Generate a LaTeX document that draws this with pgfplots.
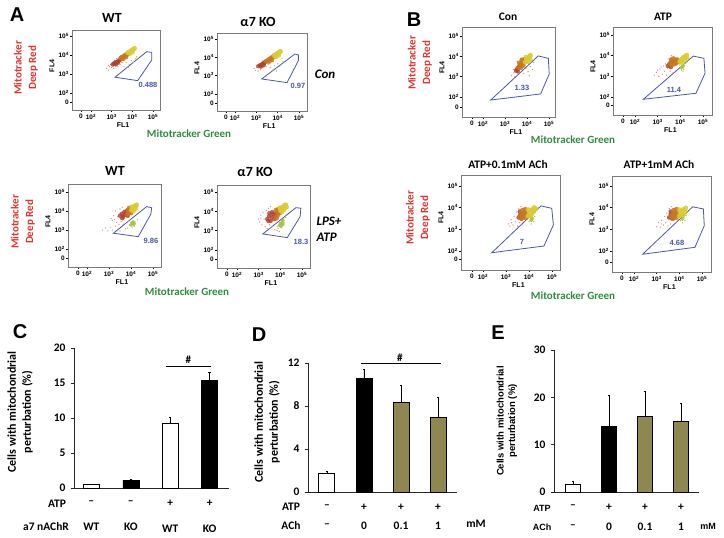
\documentclass[border=0pt]{standalone}
\usepackage{pgfplots}
\pgfplotsset{compat=1.18}
\usepackage{fontspec}
\setmainfont{Carlito}
\newfontfamily\arial{Liberation Sans}
\definecolor{cytred}{HTML}{E3342F}
\definecolor{cytgreen}{HTML}{2E8B3D}
\definecolor{gateblue}{HTML}{4A57A5}
\definecolor{olivebar}{HTML}{8F8750}
\definecolor{framegray}{HTML}{7A7A7A}
\definecolor{cellred}{HTML}{B2402C}
\definecolor{cellorange}{HTML}{C9761E}
\definecolor{cellyellow}{HTML}{DCCB2E}
\definecolor{cellgreen}{HTML}{A9C24A}
\definecolor{fringered}{HTML}{D98B7C}
\pgfplotsset{
  dots/.style={only marks,mark=*,mark size=#1,mark options={draw=none}},
  barax/.style={
    scale only axis,ybar,bar width=16pt,bar shift=0pt,
    axis x line=bottom,axis y line=left,axis line style={-,line width=0.9pt,black!85},
    xtick=data,x tick style={draw=none},
    ytick style={line width=0.8pt,black!85},tick align=outside,major tick length=3pt,
    ymin=0,clip=false,
    /pgf/number format/assume math mode=true,
    yticklabel style={font=\bfseries\fontsize{11.5}{12}\selectfont,xshift=-2pt},
    xticklabel style={align=center,font=\bfseries\fontsize{11.5}{12}\selectfont},
    error bars/y dir=plus,error bars/y explicit,
    error bars/error bar style={line width=0.8pt,black},
    error bars/error mark options={rotate=90,mark size=1.2pt,line width=0.8pt},
  },
}
% panel box in picture pixels: left right top bottom
\newcommand\flowbox[4]{\def\Lx{#1}\def\Rx{#2}\def\Ty{#3}\def\By{#4}}
% tick positions in picture pixels: x of 0, 10^2, 10^5, y of 0, 10^2, 10^5
\newcommand\flowticks[6]{%
  \pgfmathsetmacro\dx{(#3-#2)/3}\pgfmathsetmacro\dy{(#5-#6)/3}%
  \pgfmathsetmacro\xa{2+(\Lx-#2)/\dx}\pgfmathsetmacro\xb{2+(\Rx-#2)/\dx}%
  \pgfmathsetmacro\xz{2+(#1-#2)/\dx}%
  \pgfmathsetmacro\ya{2-(\By-#5)/\dy}\pgfmathsetmacro\yb{2+(#5-\Ty)/\dy}%
  \pgfmathsetmacro\yz{2-(#4-#5)/\dy}%
  \pgfmathsetmacro\Wd{\Rx-\Lx}\pgfmathsetmacro\Ht{\By-\Ty}\pgfmathsetmacro\Yb{538-\By}%
}
% cloud points, gate polygon: fringe, red, orange, yellow, green, gate, green core
\newcommand\flowaxis[7]{%
\begin{axis}[at={(\Lx pt,\Yb pt)},anchor=south west,scale only axis,
  width=\Wd pt,height=\Ht pt,xmin=\xa,xmax=\xb,ymin=\ya,ymax=\yb,
  axis line style={framegray,line width=0.7pt},
  xtick={\xz,2,3,4,5},ytick={\yz,2,3,4,5},
  xticklabels={0,10\textsuperscript{2},10\textsuperscript{3},10\textsuperscript{4},10\textsuperscript{5}},
  yticklabels={0,10\textsuperscript{2},10\textsuperscript{3},10\textsuperscript{4},10\textsuperscript{5}},
  tick align=outside,major tick length=2pt,tick style={black,line width=0.5pt},
  xtick pos=bottom,ytick pos=left,
  xticklabel style={font=\arial\bfseries\fontsize{6.5}{7}\selectfont,inner sep=1pt,yshift=-1pt},
  yticklabel style={font=\arial\bfseries\fontsize{6.5}{7}\selectfont,inner sep=1pt},
  xlabel={FL1},ylabel={FL4},
  xlabel style={font=\arial\bfseries\fontsize{7}{8}\selectfont,at={(axis description cs:0.58,0)},anchor=north,yshift=-9pt},
  ylabel style={font=\arial\bfseries\fontsize{7}{8}\selectfont,at={(axis description cs:0,0.55)},anchor=south,yshift=14pt},
]
\addplot[dots=0.35,color=fringered] coordinates {#1};
\addplot[dots=0.4,color=cellgreen] coordinates {#5};
\addplot[dots=1.8,color=cellgreen,opacity=0.85] coordinates {#7};
\addplot[dots=2.0,color=cellred,opacity=0.8] coordinates {#2};
\addplot[dots=2.3,color=cellorange,opacity=0.85] coordinates {#3};
\addplot[dots=2.3,color=cellyellow,opacity=0.85] coordinates {#4};
\addplot[color=gateblue,line width=0.8pt] coordinates {#6} -- cycle;
\end{axis}}
\begin{document}
\begin{tikzpicture}
\path[use as bounding box] (0,0) rectangle (724pt,538pt);

% ---- A, top row
\flowbox{72}{160}{30}{110}\flowticks{81}{91}{153}{102}{93}{36}
\flowaxis
{(2.75,3.3)(2.85,3.2)(2.9,3.4)(2.95,3.5)(3.0,3.35)(3.05,3.6)(3.1,3.3)(3.15,3.72)(3.2,3.4)(3.25,3.82)(3.3,3.42)(3.4,3.5)(2.85,3.45)(3.5,3.6)}
{(3.05,3.5)(3.12,3.55)(3.18,3.6)(3.25,3.62)(3.32,3.68)(3.38,3.72)(3.44,3.78)(3.2,3.52)(3.3,3.6)}
{(3.45,3.85)(3.52,3.88)(3.58,3.92)(3.65,3.98)(3.72,4.02)(3.55,3.8)(3.68,3.9)(3.78,4.05)}
{(3.78,4.12)(3.85,4.15)(3.92,4.2)(3.98,4.25)(4.05,4.3)(4.1,4.35)(3.88,4.08)(4.0,4.15)}
{(3.7,3.6)(3.85,3.5)(3.95,3.7)(4.05,3.6)(4.15,3.8)(3.6,3.4)(3.8,3.35)(4.2,3.9)}
{(3.16,2.83)(4.26,2.65)(4.94,3.74)(4.94,4.14)(4.69,4.17)}
{}

\flowbox{217}{307}{33}{111}\flowticks{226}{235}{299}{103}{94}{39}
\flowaxis
{(2.95,3.3)(3.02,3.45)(3.08,3.25)(3.15,3.55)(3.2,3.35)(3.28,3.8)(3.35,3.45)(3.45,3.5)(3.0,3.55)(3.55,3.6)(2.9,3.4)(3.4,3.85)}
{(3.1,3.52)(3.17,3.56)(3.24,3.6)(3.3,3.65)(3.36,3.68)(3.42,3.75)(3.22,3.5)(3.34,3.58)}
{(3.48,3.78)(3.55,3.84)(3.62,3.9)(3.7,3.96)(3.77,4.02)(3.6,3.78)(3.72,3.86)(3.84,4.06)}
{(3.84,4.1)(3.9,4.14)(3.96,4.18)(4.02,4.24)(4.08,4.28)(4.13,4.32)(3.92,4.04)(4.04,4.12)}
{(3.65,3.45)(3.85,3.55)(4.0,3.65)(4.1,3.5)(4.25,3.75)(3.75,3.3)(3.95,3.25)(4.2,3.95)}
{(3.25,2.82)(4.44,2.62)(4.97,3.82)(4.97,4.13)(4.81,4.18)}
{}

% ---- A, bottom row
\flowbox{68}{161}{184}{267}\flowticks{78}{87}{153}{258}{249}{192}
\flowaxis
{(2.7,3.0)(2.85,3.1)(2.95,2.95)(3.05,3.15)(3.15,3.0)(3.2,3.75)(3.25,3.55)(3.3,4.0)(3.35,3.4)(3.4,3.7)(3.45,3.3)(3.5,4.1)(3.55,3.45)(3.6,4.2)(3.65,3.3)(3.15,3.5)(3.3,3.2)(3.1,3.6)(3.5,2.95)(3.75,3.05)}
{(3.5,3.75)(3.58,3.85)(3.65,3.7)(3.72,3.8)(3.78,3.9)(3.6,3.62)(3.7,3.95)(3.85,3.75)(3.82,4.02)}
{(3.85,3.85)(3.92,3.95)(3.88,4.05)(3.98,4.05)(4.0,3.9)(3.92,4.15)}
{(4.02,4.05)(4.08,4.12)(4.14,4.2)(4.2,4.28)(4.12,4.02)(4.22,4.15)(4.05,4.22)(4.25,4.32)}
{(3.95,3.25)(4.0,3.4)(4.05,3.3)(4.1,3.45)(4.15,3.2)(4.2,3.35)(4.05,3.15)(3.85,3.1)(4.3,3.55)(3.9,3.45)(4.12,3.32)(4.02,3.25)(4.18,3.42)}
{(3.2,2.83)(4.33,2.65)(4.9,3.83)(4.94,4.17)(4.71,4.23)}
{(4.0,3.28)(4.06,3.36)(4.12,3.3)(4.1,3.42)}

\flowbox{217}{310}{185}{268}\flowticks{227}{237}{302}{259}{250}{192}
\flowaxis
{(3.0,3.6)(3.05,3.45)(3.1,3.8)(3.15,3.3)(3.2,3.95)(3.25,3.6)(3.3,3.2)(3.35,4.05)(3.4,3.1)(3.45,4.15)(3.5,3.3)(3.55,4.25)(3.65,3.2)(3.75,3.05)(3.85,3.0)(3.1,3.65)(3.95,2.95)}
{(3.4,3.6)(3.48,3.75)(3.55,3.5)(3.6,3.7)(3.68,3.85)(3.72,3.6)(3.78,3.75)(3.62,3.95)(3.5,3.9)(3.45,3.5)(3.82,3.9)}
{(3.82,3.65)(3.88,3.82)(3.92,3.98)(3.8,4.05)(3.98,3.92)(3.9,4.1)}
{(4.0,4.05)(4.06,4.15)(4.12,4.22)(4.18,4.3)(4.25,4.33)(4.08,3.98)(4.18,4.1)(4.28,4.22)(3.98,4.18)}
{(3.85,3.2)(3.95,3.4)(4.0,3.25)(4.05,3.5)(4.1,3.3)(4.15,3.6)(4.2,3.4)(4.05,3.15)(3.9,3.1)(4.25,3.7)(4.0,3.36)(4.08,3.42)(4.12,3.5)(3.95,3.28)}
{(3.19,2.83)(4.32,2.64)(4.91,3.72)(4.95,4.16)(4.72,4.19)}
{(3.96,3.28)(4.02,3.36)(4.08,3.42)(4.12,3.52)(4.02,3.24)(4.1,3.32)}

% ---- B, top row
\flowbox{462}{555}{27}{117}\flowticks{472}{483}{549}{107}{97}{36}
\flowaxis
{(3.3,3.05)(3.4,3.2)(3.45,3.0)(3.5,3.45)(3.55,3.15)(3.6,3.6)(3.65,3.2)(3.4,3.35)(3.7,3.9)(3.55,3.75)}
{(3.5,3.3)(3.56,3.36)(3.6,3.45)(3.66,3.5)(3.58,3.28)}
{(3.62,3.45)(3.68,3.55)(3.74,3.62)(3.8,3.68)(3.72,3.45)(3.82,3.55)(3.66,3.68)(3.78,3.82)(3.86,3.75)(3.9,3.85)}
{(3.92,3.72)(3.98,3.82)(4.04,3.9)(4.1,3.98)(4.16,4.05)(4.05,3.75)(4.14,3.85)(3.96,3.95)}
{(3.95,3.4)(4.05,3.25)(4.15,3.5)(4.25,3.35)(4.3,3.7)(4.1,3.05)(3.85,3.15)}
{(2.35,1.85)(4.62,2.15)(5.01,3.13)(4.97,3.9)(4.51,4.02)}
{}

\flowbox{613}{712}{27}{115}\flowticks{623}{635}{703}{105}{97}{35}
\flowaxis
{(2.85,3.05)(2.95,3.2)(3.05,3.0)(3.1,3.35)(3.2,3.1)(3.25,3.5)(3.3,3.25)(3.35,3.6)(3.4,3.05)(3.45,3.4)(3.5,3.85)(3.55,3.25)(3.15,3.45)(3.6,4.0)(3.65,3.15)(3.0,3.3)}
{(3.45,3.5)(3.52,3.6)(3.58,3.45)(3.62,3.72)}
{(3.55,3.62)(3.62,3.55)(3.68,3.7)(3.74,3.6)(3.78,3.78)(3.7,3.85)(3.82,3.65)(3.86,3.8)(3.6,3.8)(3.92,3.72)}
{(3.98,3.72)(4.05,3.82)(4.12,3.9)(4.2,3.95)(4.28,4.02)(4.08,3.65)(4.18,3.78)(4.3,3.88)}
{(4.0,3.4)(4.05,3.3)(4.1,3.5)(4.15,3.35)(4.08,3.42)(3.95,3.55)(4.2,3.6)(4.02,3.48)(4.12,3.25)}
{(2.37,1.89)(4.69,2.18)(5.09,3.15)(5.04,3.87)(4.57,3.98)}
{(4.06,3.42)(4.12,3.5)}

% ---- B, bottom row
\flowbox{461}{560}{175}{270}\flowticks{472}{483}{552}{259}{251}{186}
\flowaxis
{(3.1,3.25)(3.17,3.15)(3.22,3.45)(3.3,3.2)(3.35,3.6)(3.4,3.35)(3.45,3.8)(3.5,3.15)(3.55,3.95)(3.6,3.3)(3.25,3.3)(3.65,4.05)(3.7,3.2)}
{(3.55,3.55)(3.62,3.68)(3.66,3.5)(3.6,3.82)}
{(3.62,3.6)(3.68,3.75)(3.74,3.6)(3.78,3.72)(3.72,3.88)(3.82,3.55)(3.86,3.75)(3.84,3.92)(3.68,3.5)(3.92,3.68)}
{(3.96,3.62)(4.02,3.78)(4.08,3.88)(4.15,3.92)(4.22,4.0)(4.1,3.68)(4.2,3.82)(4.3,3.95)(3.98,3.9)}
{(4.0,3.35)(4.05,3.45)(4.1,3.25)(4.15,3.5)(4.2,3.35)(4.08,3.55)(4.25,3.6)(4.12,3.42)}
{(2.38,1.92)(4.65,2.23)(5.06,3.2)(4.99,3.97)(4.52,4.08)}
{(4.1,3.42)(4.14,3.5)}

\flowbox{612}{711}{176}{272}\flowticks{622}{634}{702}{262}{251}{186}
\flowaxis
{(3.0,3.12)(3.08,3.3)(3.15,3.1)(3.22,3.42)(3.3,3.2)(3.35,3.6)(3.4,3.3)(3.45,3.75)(3.5,3.15)(3.55,3.95)(3.62,3.25)(3.65,4.05)(3.2,3.25)}
{(3.55,3.55)(3.62,3.7)(3.68,3.5)(3.62,3.82)}
{(3.66,3.6)(3.72,3.75)(3.78,3.6)(3.82,3.72)(3.76,3.88)(3.86,3.55)(3.9,3.72)(3.88,3.92)(3.72,3.5)(3.95,3.65)}
{(4.0,3.62)(4.06,3.76)(4.12,3.85)(4.2,3.92)(4.28,3.98)(4.15,3.65)(4.25,3.8)(4.02,3.9)}
{(4.05,3.4)(4.1,3.5)(4.15,3.3)(4.2,3.55)(4.25,3.4)(4.12,3.6)(4.3,3.65)}
{(2.38,1.85)(4.69,2.17)(5.1,3.17)(5.06,3.94)(4.59,4.04)}
{(4.14,3.48)}

% ---- C
\begin{axis}[barax,at={(74pt,50pt)},anchor=south west,width=155pt,height=140pt,
  xmin=-0.44,xmax=3.49,ymax=20,ytick={0,5,10,15,20},
  xtick={0,1,2,3},
  xticklabels={{--\\[14pt]WT},{--\\[14pt]KO},{+\\[14pt]WT},{+\\[14pt]KO}},
  xticklabel style={yshift=-6pt}]
\addplot[fill=white,draw=black,line width=0.9pt,
  error bars/.cd,y dir=plus,y explicit] coordinates {(0,0.55)+-(0,0)(2,9.2)+-(0,0.95)};
\addplot[fill=black,draw=black,
  error bars/.cd,y dir=plus,y explicit] coordinates {(1,1.1)+-(0,0.15)(3,15.4)+-(0,1.1)};
\draw[line width=0.9pt] (axis cs:1.9,17.4) -- (axis cs:3.03,17.4);
\node[font=\bfseries\fontsize{11}{12}\selectfont] at (axis cs:2.46,18.3) {\#};
\end{axis}

% ---- D
\begin{axis}[barax,at={(308pt,46pt)},anchor=south west,width=149pt,height=129pt,
  xmin=-0.51,xmax=3.51,ymax=12,ytick={0,4,8,12},
  xtick={0,1,2,3},
  xticklabels={{--\\[7pt]--},{+\\[7pt]0},{+\\[7pt]0.1},{+\\[7pt]1}},
  xticklabel style={yshift=-6pt}]
\addplot[fill=white,draw=black,line width=0.9pt,
  error bars/.cd,y dir=plus,y explicit] coordinates {(0,1.7)+-(0,0.25)};
\addplot[fill=black,draw=black,
  error bars/.cd,y dir=plus,y explicit] coordinates {(1,10.6)+-(0,0.8)};
\addplot[fill=olivebar,draw=black,line width=0.9pt,
  error bars/.cd,y dir=plus,y explicit] coordinates {(2,8.3)+-(0,1.6)(3,6.9)+-(0,1.9)};
\draw[line width=0.9pt] (axis cs:0.92,12) -- (axis cs:3.08,12);
\node[font=\bfseries\fontsize{11}{12}\selectfont] at (axis cs:1.97,12.5) {\#};
\end{axis}

% ---- E
\begin{axis}[barax,at={(554pt,46pt)},anchor=south west,width=145pt,height=142pt,bar width=15pt,
  xmin=-0.53,xmax=3.5,ymax=30,ytick={0,10,20,30},
  xtick={0,1,2,3},
  xticklabels={{--\\[8pt]--},{+\\[8pt]0},{+\\[8pt]0.1},{+\\[8pt]1}},
  xticklabel style={yshift=-6pt}]
\addplot[fill=white,draw=black,line width=0.9pt,
  error bars/.cd,y dir=plus,y explicit] coordinates {(0,1.6)+-(0,0.7)};
\addplot[fill=black,draw=black,
  error bars/.cd,y dir=plus,y explicit] coordinates {(1,14)+-(0,6.4)};
\addplot[fill=olivebar,draw=black,line width=0.9pt,
  error bars/.cd,y dir=plus,y explicit] coordinates {(2,15.9)+-(0,5.4)(3,14.9)+-(0,3.8)};
\end{axis}

% ---- text in picture pixels, origin top left
\begin{scope}[shift={(0pt,538pt)},x=1pt,y=-1pt]
\tikzset{lbl/.style={inner sep=0pt,align=center},
  hd/.style={lbl,font=\bfseries\fontsize{14}{15}\selectfont},
  hdB/.style={lbl,font=\bfseries\fontsize{11.5}{13}\selectfont},
  panel/.style={lbl,font=\arial\bfseries\fontsize{20}{22}\selectfont},
  redl/.style={lbl,rotate=90,text=cytred,font=\bfseries\fontsize{11}{14.5}\selectfont},
  grnl/.style={lbl,text=cytgreen,font=\bfseries\fontsize{11}{13}\selectfont},
  pct/.style={lbl,text=gateblue,font=\arial\bfseries\fontsize{7.5}{9}\selectfont},
  cond/.style={lbl,font=\bfseries\itshape\fontsize{13}{16}\selectfont},
  ylab/.style={lbl,rotate=90,font=\bfseries\fontsize{12}{15}\selectfont},
  ylabE/.style={lbl,rotate=90,font=\arial\bfseries\fontsize{9.5}{11.5}\selectfont},
  row/.style={lbl,font=\bfseries\fontsize{11.5}{12}\selectfont},
  rowE/.style={lbl,font=\arial\bfseries\fontsize{9}{10}\selectfont}}
\node[panel] at (17,15) {A};
\node[panel] at (414,20) {B};
\node[panel] at (20,332) {C};
\node[panel] at (259,335) {D};
\node[panel] at (498,333) {E};
\node[hd] at (112,18) {WT};
\node[hd] at (258,22) {α7 KO};
\node[hd] at (115,171) {WT};
\node[hd] at (255,172) {α7 KO};
\node[hdB] at (508,17) {Con};
\node[hdB] at (663,17) {ATP};
\node[hdB] at (508,165) {ATP+0.1mM ACh};
\node[hdB] at (659,165) {ATP+1mM ACh};
\node[redl] at (26,68) {Mitotracker\\Deep Red};
\node[redl] at (23,222) {Mitotracker\\Deep Red};
\node[redl] at (420,63) {Mitotracker\\Deep Red};
\node[redl] at (418,218) {Mitotracker\\Deep Red};
\node[grnl] at (189,134) {Mitotracker Green};
\node[grnl] at (187,292) {Mitotracker Green};
\node[grnl] at (573,140) {Mitotracker Green};
\node[grnl] at (573,296) {Mitotracker Green};
\node[pct] at (148,85) {0.488};
\node[pct] at (298,86) {0.97};
\node[pct] at (151,241) {9.86};
\node[pct] at (301,242) {18.3};
\node[pct] at (522,88) {1.33};
\node[pct] at (674,90) {11.4};
\node[pct] at (522,242) {7};
\node[pct] at (677,243) {4.68};
\node[cond] at (325,74) {Con};
\node[cond,align=left] at (329,229) {LPS+\\ATP};
\node[ylab] at (20,412) {Cells with mitochondrial\\perturbation (\%)};
\node[ylab] at (267,422) {Cells with mitochondrial\\perturbation (\%)};
\node[ylabE] at (507,421) {Cells with mitochondrial\\perturbation (\%)};
\node[row] at (57,504) {ATP};
\node[row] at (46,527) {a7 nAChR};
\node[row] at (291,507) {ATP};
\node[row] at (291,526) {ACh};
\node[row] at (476,524) {mM};
\node[rowE] at (542,508) {ATP};
\node[rowE] at (542,527) {ACh};
\node[rowE] at (708,526) {mM};
\end{scope}
\end{tikzpicture}
\end{document}
